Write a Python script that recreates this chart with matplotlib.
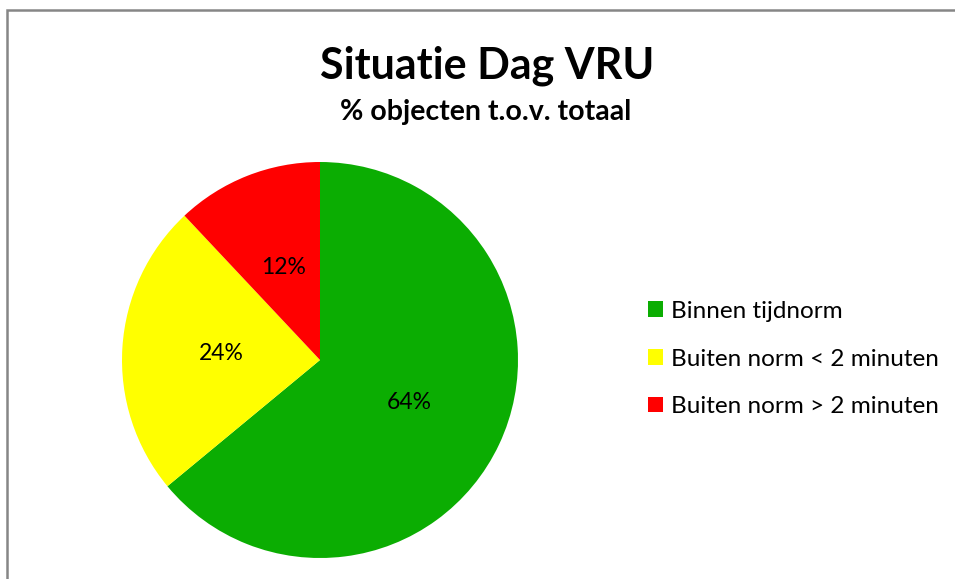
import matplotlib
matplotlib.use("Agg")
import matplotlib.pyplot as plt
from matplotlib.patches import Patch, Rectangle

plt.rcParams['font.family'] = ['Lato', 'DejaVu Sans']

categories = ["Binnen tijdnorm", "Buiten norm < 2 minuten", "Buiten norm > 2 minuten"]
values = [64, 24, 12]
colors = ["#0BAD02", "#FFFF00", "#FF0000"]
title = "Situatie Dag VRU"
subtitle = "% objecten t.o.v. totaal"

W, H = 955, 579
fig = plt.figure(figsize=(W / 100, H / 100), dpi=100)
fig.patch.set_facecolor("white")

# chart border (top/left visible, extending past right/bottom)
fig.add_artist(Rectangle((7 / W, -0.05), 1.2, (H - 10) / H + 0.05, transform=fig.transFigure,
                         fill=False, edgecolor="#868686", linewidth=1.8))

cx, cy, r = 320, 360, 198
ax = fig.add_axes([(cx - r) / W, (H - cy - r) / H, 2 * r / W, 2 * r / H])
wedges, texts, autotexts = ax.pie(values, colors=colors, startangle=90, counterclock=False,
                                  autopct=lambda p: f"{p:.0f}%", pctdistance=0.5,
                                  wedgeprops=dict(linewidth=0), radius=1.0)
for t in autotexts:
    t.set_fontsize(16.5)
    t.set_color("black")
ax.set_xlim(-1, 1)
ax.set_ylim(-1, 1)
ax.set_aspect("equal")
ax.axis("off")

fig.text(487 / W, 1 - 78 / H, title, ha="center", va="baseline", fontsize=31, fontweight="bold")
fig.text(486 / W, 1 - 120 / H, subtitle, ha="center", va="baseline", fontsize=20.5, fontweight="bold")

handles = [Patch(facecolor=c, edgecolor="none") for c in colors]
fig.legend(handles, categories, loc="center left", bbox_to_anchor=(648 / W, 1 - 359 / H),
           frameon=False, fontsize=17.5, handlelength=0.6, handleheight=0.6,
           handletextpad=0.33, labelspacing=1.1, borderpad=0, borderaxespad=0)

fig.savefig("out.png", dpi=100)
